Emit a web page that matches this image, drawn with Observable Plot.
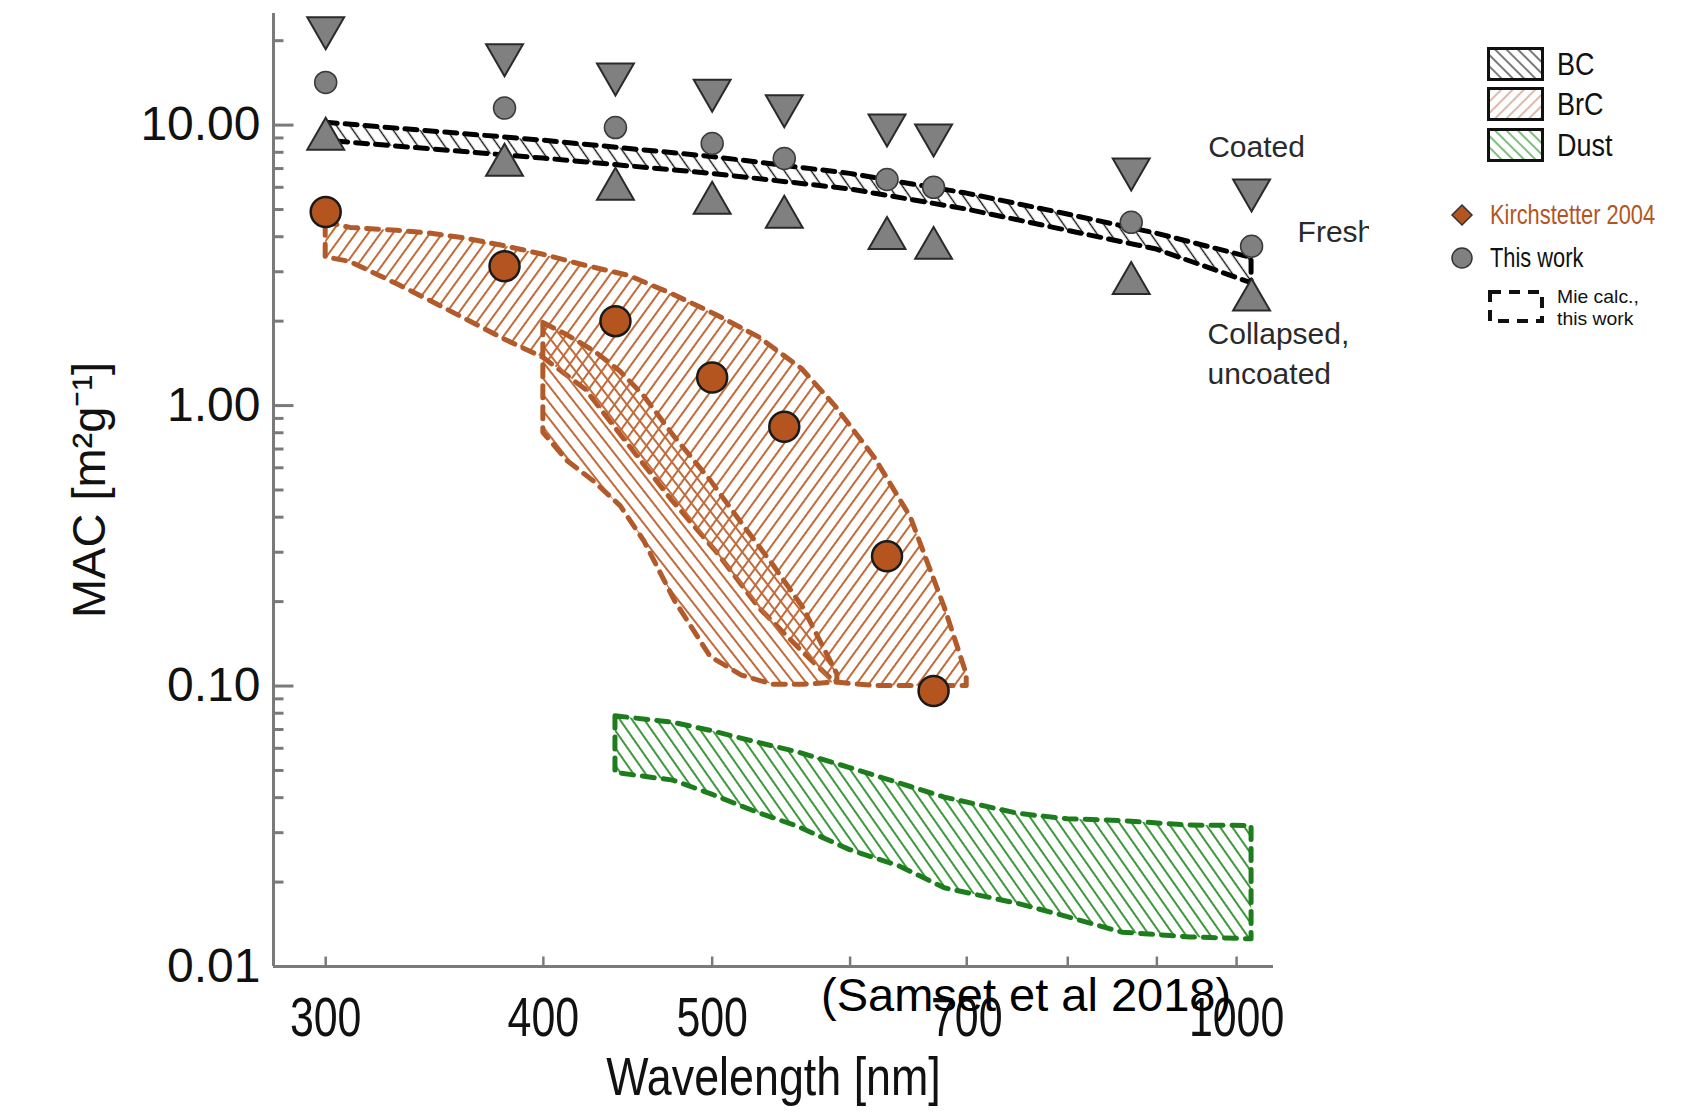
<!DOCTYPE html>
<html>
<head>
<meta charset="utf-8">
<script src="https://cdn.jsdelivr.net/npm/d3@7"></script>
<script src="https://cdn.jsdelivr.net/npm/@observablehq/plot@0.6"></script>
<style>
  html, body { margin: 0; padding: 0; background: #fff; }
  #chart { position: relative; width: 1700px; height: 1115px; overflow: hidden; font-family: "Liberation Sans", Arial, sans-serif; background:#fff; }
  [aria-label^="x-axis"] text { font-size: 55px; }
  [aria-label^="y-axis"] text { font-size: 48px; }
  .abs { position: absolute; white-space: nowrap; line-height: 1; }
  .sq { transform-origin: 0 50%; }
</style>
</head>
<body>
<div id="chart"></div>
<script>
// ---------------- data ----------------
const markerWl   = [300, 380, 440, 500, 550, 630, 670, 870, 1020];
const coated     = [22.2, 17.8, 15.2, 13.3, 11.7, 10.0, 9.2, 6.97, 5.86];
const fresh      = [14.2, 11.5, 9.8, 8.6, 7.6, 6.4, 6.0, 4.5, 3.7];
const collapsed  = [8.92, 7.2, 5.91, 5.27, 4.70, 3.95, 3.64, 2.73, 2.38];

const kirchWl    = [300, 380, 440, 500, 550, 630, 670];
const kirchMAC   = [4.9, 3.14, 2.0, 1.26, 0.84, 0.29, 0.096];

const bcWl       = [300, 400, 500, 600, 700, 800, 900, 1020];
const bcUpper    = [10.2, 8.8, 7.7, 6.7, 5.7, 4.8, 4.1, 3.36];
const bcLower    = [8.8, 7.6, 6.7, 5.9, 5.0, 4.2, 3.6, 2.73];

const brcAWl     = [300, 310, 330, 345, 360, 380, 400, 423, 448, 474, 503, 532, 563, 588, 620, 650, 680, 700];
const brcAUpper  = [4.5, 4.3, 4.2, 4.1, 3.95, 3.7, 3.45, 3.15, 2.9, 2.5, 2.1, 1.75, 1.35, 1.0, 0.65, 0.4, 0.19, 0.11];
const brcALower  = [3.38, 3.25, 2.7, 2.35, 2.05, 1.72, 1.48, 1.14, 0.72, 0.46, 0.30, 0.19, 0.133, 0.103, 0.10, 0.10, 0.10, 0.10];

const brcBWl     = [400, 413, 428, 443, 457, 476, 499, 520, 542, 564, 590];
const brcBUpper  = [1.97, 1.78, 1.56, 1.32, 1.08, 0.77, 0.54, 0.38, 0.27, 0.19, 0.11];
const brcBLower  = [0.80, 0.634, 0.534, 0.438, 0.329, 0.201, 0.127, 0.109, 0.101, 0.101, 0.103];

const dustWl     = [440, 475, 500, 530, 560, 600, 640, 680, 750, 800, 860, 940, 1020];
const dustUpper  = [0.078, 0.074, 0.069, 0.063, 0.058, 0.051, 0.045, 0.040, 0.035, 0.0335, 0.033, 0.0318, 0.0317];
const dustLower  = [0.049, 0.046, 0.041, 0.0355, 0.0315, 0.026, 0.0228, 0.019, 0.0167, 0.015, 0.0132, 0.0127, 0.0125];

const xTickValues  = [300, 400, 500, 600, 700, 800, 900, 1000];
const xTickLabeled = [300, 400, 500, 700, 1000];
const yMajorTicks  = [0.01, 0.1, 1, 10];
const yMinorTicks  = [0.02, 0.03, 0.04, 0.05, 0.06, 0.07, 0.08, 0.09,
                      0.2, 0.3, 0.4, 0.5, 0.6, 0.7, 0.8, 0.9,
                      2, 3, 4, 5, 6, 7, 8, 9, 20];

const annoLabels = ["Coated", "Fresh", "Collapsed,\nuncoated"];
const legendPatches = ["BC", "BrC", "Dust"];
const legendMarkers = ["Kirchstetter 2004", "This work"];
const legendLine = ["Mie calc.,", "this work"];
const xLabel = "Wavelength [nm]";
const yLabel = "MAC [m²g⁻¹]";
const caption = "(Samset et al 2018)";

// ---------------- tables ----------------
const band = (wl, lo, hi) => wl.map((w, i) => ({w, lo: lo[i], hi: hi[i]}));
const bcData   = band(bcWl, bcLower, bcUpper);
const brcAData = band(brcAWl, brcALower, brcAUpper);
const brcBData = band(brcBWl, brcBLower, brcBUpper);
const dustData = band(dustWl, dustLower, dustUpper);
const markers  = markerWl.map((w, i) => ({w, coated: coated[i], fresh: fresh[i], collapsed: collapsed[i]}));
const kirch    = kirchWl.map((w, i) => ({w, v: kirchMAC[i]}));
const last = markers[markers.length - 1];

// ---------------- symbols ----------------
const downTriangle = {
  draw(context, size) {
    const y = Math.sqrt(size / (Math.sqrt(3) * 3));
    context.moveTo(0, 2 * y);
    context.lineTo(-Math.sqrt(3) * y, -y);
    context.lineTo(Math.sqrt(3) * y, -y);
    context.closePath();
  }
};
const tickUp = {draw(c) { c.moveTo(0, 0); c.lineTo(0, -10); }};
const tickRightMajor = {draw(c) { c.moveTo(0, 0); c.lineTo(20, 0); }};
const tickRightMinor = {draw(c) { c.moveTo(0, 0); c.lineTo(10, 0); }};

const axisGray = "#7a7a7a";
const brown = "#b25a2a";
const brownHatch = "#c26a38";
const green = "#1d7d1d";
const greenHatch = "#3c9a3c";
const markerFill = "#808080";

const plot = Plot.plot({
  width: 1700,
  height: 1115,
  marginLeft: 273,
  marginRight: 427,
  marginTop: 13,
  marginBottom: 149,
  style: {fontFamily: "Liberation Sans, Arial, sans-serif", fontSize: "47px", color: "#111", background: "transparent", overflow: "visible"},
  x: {type: "log", domain: [280, 1050], ticks: xTickValues, tickFormat: d => xTickLabeled.includes(d) ? String(d) : "", tickSize: 0, tickPadding: 30, label: null},
  y: {type: "log", domain: [0.01, 25], ticks: yMajorTicks, tickFormat: d => d.toFixed(2), tickSize: 0, tickPadding: 13, label: null},
  marks: [
    // bands
    Plot.areaY(dustData, {x: "w", y1: "lo", y2: "hi", fill: "url(#hDust)", stroke: green, strokeWidth: 5, strokeDasharray: "12,9"}),
    Plot.areaY(brcAData, {x: "w", y1: "lo", y2: "hi", fill: "url(#hBrCA)", stroke: brown, strokeWidth: 5, strokeDasharray: "12,9"}),
    Plot.areaY(brcBData, {x: "w", y1: "lo", y2: "hi", fill: "url(#hBrCB)", stroke: brown, strokeWidth: 5, strokeDasharray: "12,9"}),
    Plot.areaY(bcData, {x: "w", y1: "lo", y2: "hi", fill: "url(#hBC)", stroke: "#000", strokeWidth: 5, strokeDasharray: "12,8"}),
    // axis lines and inward ticks
    Plot.ruleY([0.01], {stroke: axisGray, strokeWidth: 3}),
    Plot.ruleX([280], {stroke: axisGray, strokeWidth: 3}),
    Plot.dot(xTickValues, {x: d => d, frameAnchor: "bottom", symbol: tickUp, stroke: axisGray, strokeWidth: 2.5, fill: "none"}),
    Plot.dot(yMajorTicks, {y: d => d, frameAnchor: "left", symbol: tickRightMajor, stroke: axisGray, strokeWidth: 3, fill: "none"}),
    Plot.dot(yMinorTicks, {y: d => d, frameAnchor: "left", symbol: tickRightMinor, stroke: axisGray, strokeWidth: 3, fill: "none"}),
    // markers
    Plot.dot(markers, {x: "w", y: "coated", symbol: downTriangle, r: 13.7, fill: markerFill, stroke: "#2a2a2a", strokeWidth: 2}),
    Plot.dot(markers, {x: "w", y: "collapsed", symbol: "triangle", r: 13.7, fill: markerFill, stroke: "#2a2a2a", strokeWidth: 2}),
    Plot.dot(markers, {x: "w", y: "fresh", r: 11, fill: markerFill, stroke: "#3a3a3a", strokeWidth: 1.5}),
    Plot.dot(kirch, {x: "w", y: "v", r: 15, fill: "#b4551f", stroke: "#1a1a1a", strokeWidth: 2.5}),
    // annotations
    Plot.text([annoLabels[0]], {x: () => last.w, y: () => last.coated, text: d => d, dx: 5, dy: -43, fontSize: 30, fill: "#2a2a2a"}),
    Plot.text([annoLabels[1]], {x: () => last.w, y: () => last.fresh, text: d => d, dx: 46, dy: -14, textAnchor: "start", fontSize: 30, fill: "#2a2a2a"}),
    Plot.text([annoLabels[2]], {x: () => last.w, y: () => last.collapsed, text: d => d, dx: -44, dy: 51, textAnchor: "start", fontSize: 30, lineHeight: 1.33, fill: "#2a2a2a"}),
    // axis titles
    Plot.text([xLabel], {text: d => d, frameAnchor: "bottom", lineAnchor: "middle", textAnchor: "middle", dy: 111, fontSize: 54, fill: "#111"}),
    Plot.text([yLabel], {text: d => d, frameAnchor: "left", textAnchor: "middle", lineAnchor: "middle", dx: -184, rotate: -90, fontSize: 47, fill: "#111"})
  ]
});

function hatch(id, color, width, spacing, angle) {
  return `<pattern id="${id}" patternUnits="userSpaceOnUse" width="${spacing}" height="${spacing}" patternTransform="rotate(${angle})">` +
         `<line x1="${spacing / 2}" y1="-1" x2="${spacing / 2}" y2="${spacing + 1}" stroke="${color}" stroke-width="${width}"/></pattern>`;
}
const ns = "http://www.w3.org/2000/svg";
const defs = document.createElementNS(ns, "defs");
defs.innerHTML =
  hatch("hBC", "#111", 1.4, 11, -35) +
  hatch("hBrCA", brownHatch, 2, 10, 36) +
  hatch("hBrCB", brownHatch, 2, 10, -38) +
  hatch("hDust", greenHatch, 2, 10, -35) +
  hatch("lBC", "#333", 1.3, 8, -45) +
  hatch("lBrC", "#c98a70", 1.2, 8, 45) +
  hatch("lDust", "#3a9a3a", 1.3, 8, -45);
plot.insertBefore(defs, plot.firstChild);
plot.style.position = "absolute";
plot.style.left = "0px";
plot.style.top = "0px";

// condensed look of the original lettering for the x tick labels and x title
function squeeze(el, k) {
  el.setAttribute("transform", ((el.getAttribute("transform") || "") + ` scale(${k},1)`).trim());
}
plot.querySelectorAll('[aria-label^="x-axis"] text').forEach(t => squeeze(t, 0.78));
plot.querySelectorAll("text").forEach(t => { if (t.textContent === xLabel) squeeze(t, 0.83); });

const chart = document.getElementById("chart");
chart.appendChild(plot);

// cover to cut off "Fresh" like the reference crop
const cover = document.createElement("div");
cover.className = "abs";
cover.style.cssText = "left:1369px;top:205px;width:60px;height:55px;background:#fff;";
chart.appendChild(cover);

// legend
function addHTML(html) { chart.insertAdjacentHTML("beforeend", html); }
const patchIds = ["lBC", "lBrC", "lDust"];
const patchTops = [47, 87, 128];
legendPatches.forEach((name, i) => {
  addHTML(`<svg class="abs" style="left:1487px;top:${patchTops[i]}px" width="57" height="34"><rect x="1.5" y="1.5" width="54" height="31" fill="url(#${patchIds[i]})" stroke="#111" stroke-width="3"/></svg>`);
  addHTML(`<div class="abs sq" style="left:1557px;top:${patchTops[i] + 17 - 15}px;font-size:31px;color:#111;transform:scaleX(0.87)">${name}</div>`);
});
addHTML(`<svg class="abs" style="left:1450px;top:203px" width="24" height="24"><polygon points="12,2 22,12 12,22 2,12" fill="#b4551f" stroke="#333" stroke-width="1.5"/></svg>`);
addHTML(`<div class="abs sq" style="left:1490px;top:${215 - 14}px;font-size:28px;color:#b4551f;transform:scaleX(0.78)">${legendMarkers[0]}</div>`);
addHTML(`<svg class="abs" style="left:1450px;top:246px" width="24" height="24"><circle cx="12" cy="12" r="10" fill="${markerFill}" stroke="#333" stroke-width="1.5"/></svg>`);
addHTML(`<div class="abs sq" style="left:1490px;top:${258 - 14}px;font-size:28px;color:#111;transform:scaleX(0.78)">${legendMarkers[1]}</div>`);
addHTML(`<svg class="abs" style="left:1487px;top:289px" width="58" height="36"><rect x="3" y="3" width="52" height="29" fill="none" stroke="#111" stroke-width="4" stroke-dasharray="11,8"/></svg>`);
addHTML(`<div class="abs sq" style="left:1557px;top:286px;font-size:19px;line-height:21px;color:#111;transform:scaleX(1.02)">${legendLine[0]}</div>`);
addHTML(`<div class="abs sq" style="left:1557px;top:308px;font-size:19px;line-height:21px;color:#111;transform:scaleX(1.02)">${legendLine[1]}</div>`);

// caption overlay
addHTML(`<div class="abs" style="left:821px;top:${995 - 24}px;font-size:47px;color:#000">${caption}</div>`);
</script>
</body>
</html>
